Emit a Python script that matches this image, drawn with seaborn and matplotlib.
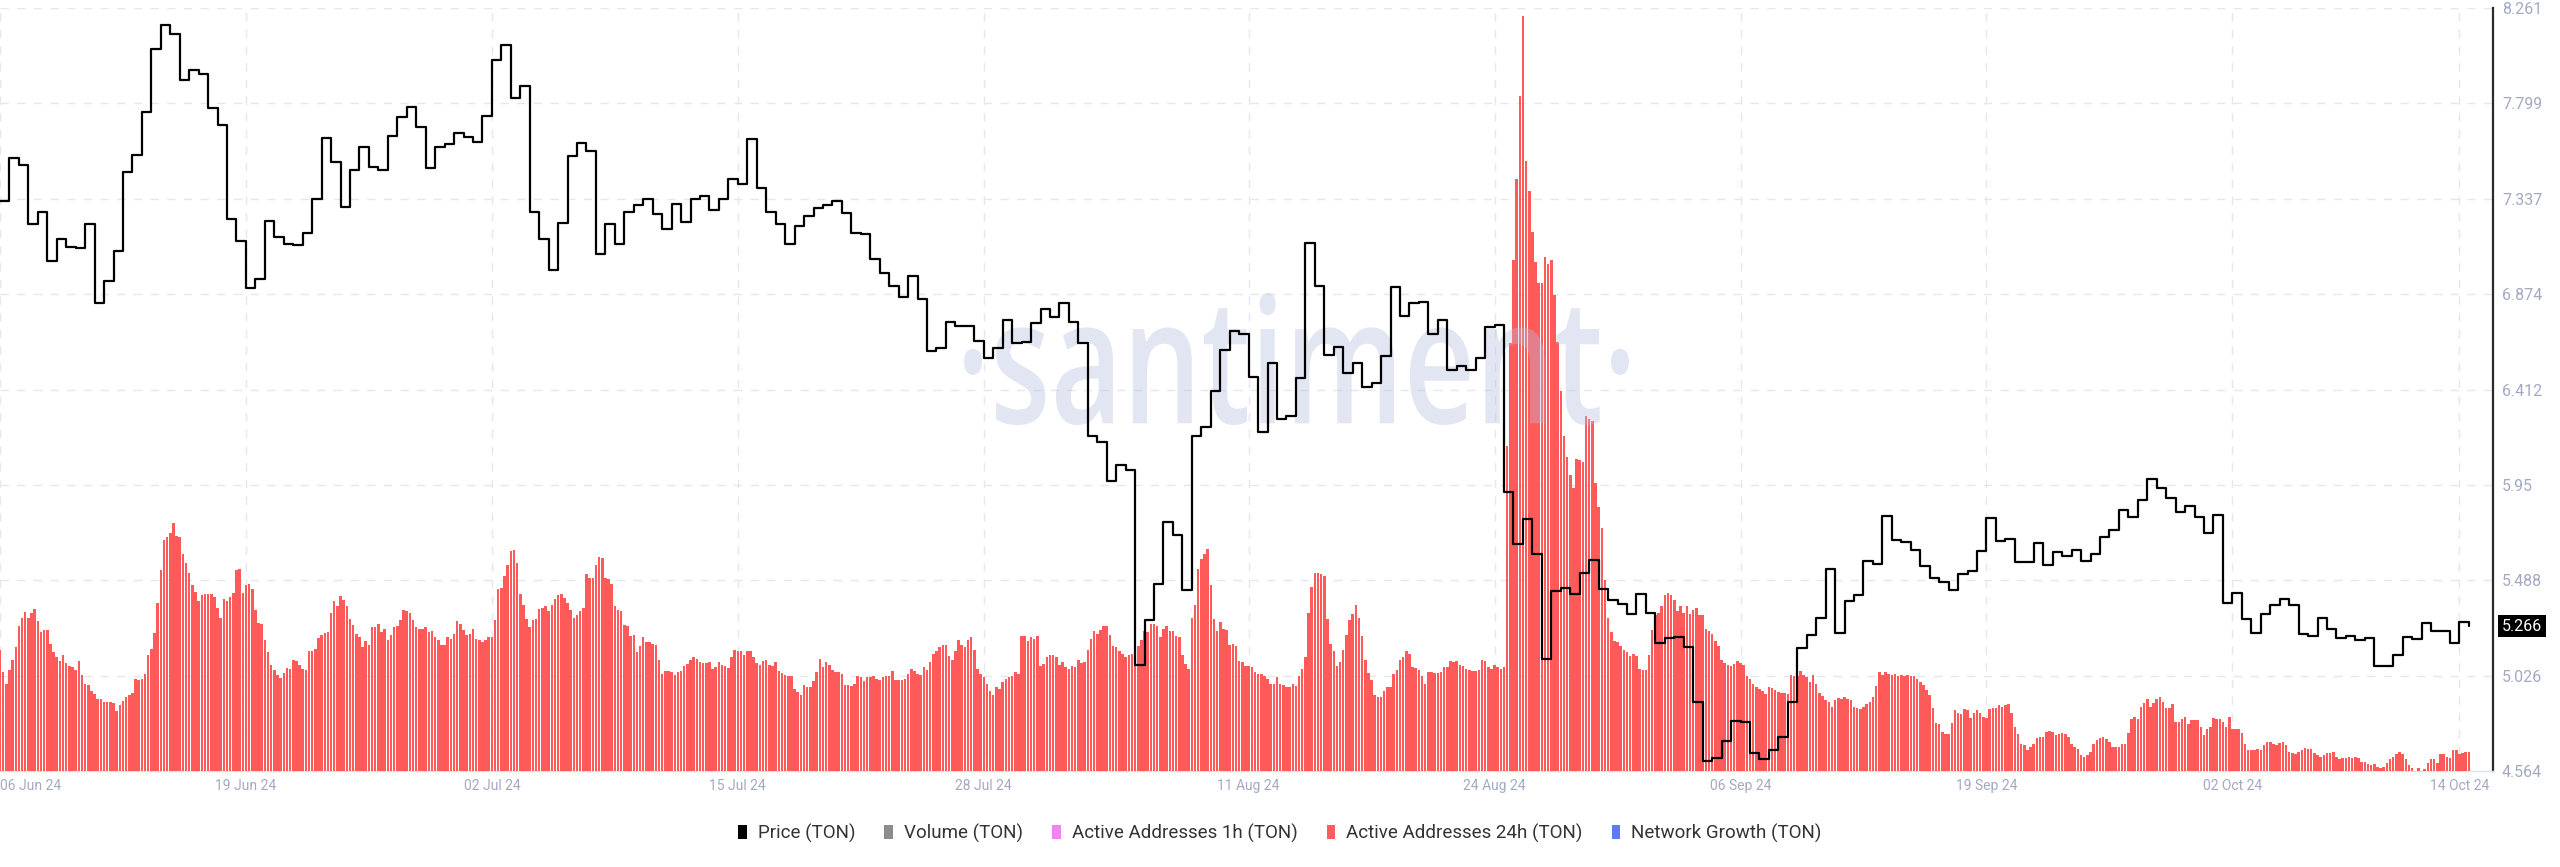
import numpy as np
import pandas as pd
import matplotlib
matplotlib.use('Agg')
import matplotlib.pyplot as plt
import seaborn as sns
from matplotlib.patches import Patch, PathPatch
from matplotlib.textpath import TextPath
from matplotlib.font_manager import FontProperties
from matplotlib.transforms import Affine2D

sns.set_theme(style='white')
plt.rcParams['font.family'] = ['Roboto', 'DejaVu Sans']

# Price (TON), one value every 12h starting 06 Jun 24
price_ton = [
    7.324, 7.534, 7.498, 7.214, 7.274, 7.033, 7.141, 7.105, 7.098, 7.216,
    6.831, 6.937, 7.084, 7.466, 7.551, 7.755, 8.064, 8.179, 8.136, 7.912,
    7.962, 7.943, 7.775, 7.695, 7.238, 7.134, 6.903, 6.949, 7.230, 7.153,
    7.117, 7.112, 7.173, 7.336, 7.630, 7.514, 7.298, 7.478, 7.587, 7.490,
    7.474, 7.642, 7.731, 7.779, 7.686, 7.486, 7.589, 7.601, 7.654, 7.637,
    7.611, 7.738, 8.011,
    8.083, 7.823, 7.883, 7.274, 7.144, 6.992, 7.221, 7.543, 7.606, 7.570,
    7.071, 7.216, 7.117, 7.274, 7.305, 7.334, 7.262, 7.192, 7.312, 7.226,
    7.334, 7.348, 7.281, 7.336, 7.433, 7.406, 7.625, 7.389, 7.274, 7.216,
    7.117, 7.204, 7.252, 7.293, 7.305, 7.324, 7.269, 7.173, 7.168, 7.047,
    6.975, 6.913, 6.860, 6.963, 6.852, 6.600, 6.612, 6.739, 6.720, 6.722,
    6.648, 6.563, 6.614,
    6.751, 6.636, 6.643, 6.734, 6.804, 6.763, 6.831, 6.739, 6.636, 6.185,
    6.157, 5.969, 6.046, 6.022, 5.078, 5.294, 5.470, 5.769, 5.709, 5.439,
    6.189, 6.233, 6.407, 6.602, 6.696, 6.679, 6.474, 6.209, 6.542, 6.270,
    6.282, 6.470, 7.124, 6.913, 6.578, 6.619, 6.494, 6.542, 6.426, 6.445,
    6.575, 6.908, 6.770, 6.831, 6.836, 6.679, 6.751, 6.506, 6.527, 6.506,
    6.566, 6.715, 6.727,
    5.916, 5.663, 5.784, 5.615, 5.107, 5.434, 5.451, 5.422, 5.523, 5.588,
    5.446, 5.391, 5.374, 5.326, 5.422, 5.331, 5.186, 5.210, 5.215, 5.167,
    4.897, 4.613, 4.627, 4.709, 4.805, 4.800, 4.649, 4.620, 4.668, 4.728,
    4.897, 5.162, 5.222, 5.306, 5.542, 5.234, 5.386, 5.415, 5.583, 5.567,
    5.800, 5.684, 5.675, 5.636, 5.559, 5.499, 5.482, 5.439, 5.518, 5.535,
    5.631, 5.788, 5.680,
    5.689, 5.578, 5.578, 5.668, 5.564, 5.624, 5.607, 5.636, 5.583, 5.615,
    5.697, 5.733, 5.831, 5.793, 5.877, 5.981, 5.937, 5.889, 5.819, 5.848,
    5.793, 5.716, 5.805, 5.379, 5.427, 5.299, 5.234, 5.326, 5.367, 5.398,
    5.367, 5.229, 5.217, 5.306, 5.253, 5.210, 5.217, 5.198, 5.210, 5.073,
    5.073, 5.126, 5.215, 5.205, 5.282, 5.241, 5.241, 5.186, 5.287, 5.266,
]

# Active Addresses 24h (TON), thousands, one bar every 4h starting 06 Jun 24
active_addresses_24h = [
    244, 199, 176, 204, 224, 249, 292, 309, 321, 309,
    319, 326, 302, 279, 284, 284, 256, 239, 229, 222,
    234, 217, 212, 209, 204, 221, 194, 176, 174, 162,
    156, 144, 144, 139, 138, 138, 136, 121, 132,
    141, 149, 154, 157, 186, 184, 186, 196, 234, 246,
    278, 339, 404, 466, 472, 479, 499, 474, 471, 436,
    419, 399, 374, 361, 342, 354, 357, 357, 357, 351,
    329, 309, 346, 342, 351, 359, 404, 406, 359, 374,
    376, 366, 324, 297, 296, 264, 239, 214, 204, 194,
    187, 197, 207, 206, 224, 222, 214, 206, 204, 242,
    242, 246, 267, 274, 277, 279, 319, 342, 332, 352,
    344, 332, 306, 294, 276, 269, 249, 261, 254, 289,
    289, 296, 279, 286, 264, 274, 289, 292, 304, 324,
    322, 318, 304, 289, 286, 286, 289, 279, 282, 269,
    264, 254, 254, 269, 266, 276, 302, 296, 284, 274,
    276, 286, 266, 264, 259, 264, 269, 269, 304, 366,
    369, 392, 414, 442, 444, 419, 356, 334, 306, 289,
    304, 307, 326, 329, 332, 322, 334, 347, 354, 357,
    349, 339, 324, 309, 314, 322, 329, 397, 389, 389,
    414, 431, 429, 389, 386, 376, 332, 324, 322, 294,
    292, 272, 274, 239, 252, 269, 259, 259, 256, 254,
    224, 196, 202, 202, 199, 194, 199, 202, 211,
    216, 224, 229, 226, 219, 217, 217, 219, 206,
    209, 219, 214, 212, 207, 229, 244, 242, 242, 234,
    242, 242, 229, 217, 214, 222, 224, 214, 212, 219,
    202, 197, 194, 192, 192, 166, 159, 154, 174, 169,
    169, 182, 199, 226, 209, 219, 214, 204, 199, 199,
    196, 174, 174, 172, 176, 192, 189, 181, 189, 189,
    192, 186, 184, 189, 192, 192, 202, 184, 184, 184,
    186, 196, 206, 202, 196, 194, 209, 204, 219, 236,
    242, 249, 254, 254, 232, 224, 242, 264, 254, 249,
    264, 269, 244, 206, 196, 189, 176, 162, 154, 169,
    166,
    179, 186, 189, 192, 199, 196, 272, 272, 262, 269,
    266, 272, 212, 216, 229, 234, 234, 229, 214,
    219, 209, 206, 212, 209, 224, 217, 219, 244, 266,
    282, 276, 284, 292, 292, 274, 252, 249, 242, 236,
    229, 234, 236, 242, 252, 264, 282, 279, 296, 296,
    292, 269, 286, 291, 282, 282, 271, 269, 234, 216,
    206, 309, 334, 407, 426, 436, 446, 374, 306, 282,
    299, 286, 284, 254, 256, 252, 222, 219, 212, 212,
    209, 199, 196, 196, 192, 186, 176, 176, 189, 176,
    174, 169, 169, 176, 172, 192, 206, 229, 319, 371,
    399, 399, 396, 392, 306, 256, 242, 212, 219, 244,
    274, 304, 317, 334, 309, 272, 224, 197, 184, 154,
    149, 149, 162, 169, 169, 196, 204, 224, 229, 242,
    236, 209, 207, 204, 192, 176, 199, 199, 197,
    197, 199, 209, 209, 222, 219, 222, 214, 212, 206,
    204, 202, 202, 204, 224, 222, 209, 206, 214, 209,
    206,
    209, 654, 862, 1028, 1192, 1358, 1520, 1228, 1168, 1086,
    1024, 982, 982, 1034, 1020, 1028, 958, 864, 764, 674,
    632, 596, 569, 629, 626, 622, 714, 709, 704, 579,
    532, 489, 384, 309, 279,
    261, 259, 252, 244, 239, 232, 236, 232, 206, 204,
    204, 234, 284, 314, 319, 332, 354, 359, 354, 344,
    322, 332, 319, 332, 316, 324, 329, 314, 314, 286,
    282, 276, 262, 252, 224, 217, 214, 212, 216, 222,
    217, 214, 192, 186, 176, 169, 166, 161, 156, 169,
    167, 164, 159, 157, 157, 156, 194, 192, 192,
    202, 194, 189, 179, 194, 176, 157, 152, 142, 139,
    129, 142, 146, 144, 149, 144, 142, 129, 126, 124,
    129, 134, 139, 149, 172, 199, 194, 199, 196, 194,
    196, 192, 194, 192, 194, 192, 192, 186, 179, 174,
    164, 154, 126, 96, 94, 79, 74, 74, 96, 122,
    116, 114, 124, 122, 106, 116, 122, 116, 109, 106,
    124, 126, 126, 132, 129,
    132, 134, 116, 89, 74, 54, 52, 42, 49, 54,
    66, 69, 69, 79, 81, 79, 72, 74, 77, 74,
    69, 54, 49, 44, 32, 29, 32, 39, 54, 62,
    66, 69, 64, 59, 49, 49, 49, 54, 54, 76,
    104, 109, 104, 129, 136, 144, 129, 136, 144, 149,
    139, 126, 126, 134, 99, 99, 104, 109, 94, 102,
    102, 102, 89, 72, 84, 89, 106, 104, 104, 99,
    89, 109, 84, 84, 84, 76, 54, 42, 42, 42,
    44, 42, 52, 59, 59, 54, 52, 56, 59, 52,
    39, 36, 34, 39, 42, 46, 44, 44, 36, 32,
    29, 32, 36, 36, 39, 29, 24, 26, 26, 29,
    26, 29, 26, 19, 19, 14, 12, 14, 9, 6,
    9, 16, 24, 29, 34, 39, 34, 24, 12, 6,
    0, 6, 0, 4, 16, 24, 24, 16, 34, 34,
    29, 26, 42, 42, 34, 36, 39, 39,
]

price_ticks = [4.564, 5.026, 5.488, 5.95, 6.412, 6.874, 7.337, 7.799, 8.261]
price_tick_labels = ['4.564', '5.026', '5.488', '5.95', '6.412', '6.874', '7.337', '7.799', '8.261']

date_ticks = ['2024-06-06', '2024-06-19', '2024-07-02', '2024-07-15', '2024-07-28', '2024-08-11',
              '2024-08-24', '2024-09-06', '2024-09-19', '2024-10-02', '2024-10-14']
date_labels = ['06 Jun 24', '19 Jun 24', '02 Jul 24', '15 Jul 24', '28 Jul 24', '11 Aug 24',
               '24 Aug 24', '06 Sep 24', '19 Sep 24', '02 Oct 24', '14 Oct 24']

legend_labels = ['Price (TON)', 'Volume (TON)', 'Active Addresses 1h (TON)',
                 'Active Addresses 24h (TON)', 'Network Growth (TON)']
legend_colors = ['#000000', '#8c8c8c', '#ef83ef', '#ff5c5c', '#5c7cfa']

price_times = pd.date_range('2024-06-06', periods=len(price_ton), freq='12h')
bar_times = pd.date_range('2024-06-06', periods=len(active_addresses_24h), freq='4h')

tick_color = '#a3a9c4'

fig = plt.figure(figsize=(25.6, 8.67), dpi=100)
ax = fig.add_axes([0.0, 0.1107, 0.9738, 0.8801])

# bars layer and price layer sit on twins of the base (grid) axes
ax_bar = ax.twinx()
ax_line = ax.twinx()

ax.set_ylim(4.564, 8.261)
ax.set_yticks(price_ticks)
ax.set_yticklabels(price_tick_labels)
ax.yaxis.tick_right()
ax.tick_params(axis='y', left=False, labelleft=False, right=False, labelright=True,
               length=0, pad=6.5, labelsize=11.5, labelcolor=tick_color)
ax.grid(True, color='#e4e6f0', linestyle=(0, (6, 6)), linewidth=1)
for side in ['top', 'left']:
    ax.spines[side].set_visible(False)
ax.spines['right'].set_color('#2a2a2a')
ax.spines['right'].set_linewidth(1.6)
ax.spines['bottom'].set_color('#dfe2ea')
ax.spines['bottom'].set_linewidth(1)

ax_bar.bar(bar_times, active_addresses_24h, width=(4 / 24) * 0.8, color='#ff5a5a', linewidth=0)
ax_bar.set_ylim(0, 1536)
ax_bar.set_axis_off()

# watermark
tp = TextPath((0, 0), '\u00b7santiment\u00b7', size=100,
              prop=FontProperties(family='Open Sans', weight='semibold'))
bb = tp.get_extents()
x0, x1, y0, y1 = 9.64, 16.29, 4.42, 5.74
wm = Affine2D().translate(-bb.x0, -bb.y0).scale((x1 - x0) / bb.width, (y1 - y0) / bb.height).translate(x0, y0)
ax_bar.add_artist(PathPatch(wm.transform_path(tp), transform=fig.dpi_scale_trans,
                            facecolor='#b4bedd', edgecolor='none', alpha=0.38, clip_on=False))

sns.lineplot(x=price_times, y=price_ton, ax=ax_line, color='black', linewidth=1.6,
             drawstyle='steps-post')
ax_line.set_ylim(4.564, 8.261)
ax_line.set_axis_off()
ax_line.annotate(f'{price_ton[-1]:.3f}', xy=(1, price_ton[-1]), xycoords=('axes fraction', 'data'),
                 xytext=(6.5, 0), textcoords='offset points', ha='left', va='center',
                 fontsize=11.5, color='white', annotation_clip=False,
                 bbox=dict(boxstyle='square,pad=0.22', fc='black', ec='none'))

ax.set_xlim(pd.Timestamp('2024-06-06'), pd.Timestamp('2024-10-15 18:30'))
ax.set_xticks(pd.to_datetime(date_ticks))
ax.set_xticklabels(date_labels)
ax.tick_params(axis='x', length=0, pad=6, labelsize=10, labelcolor=tick_color)
ax.get_xticklabels()[0].set_horizontalalignment('left')

handles = [Patch(facecolor=c, edgecolor='none') for c in legend_colors]
fig.legend(handles, legend_labels, loc='center', bbox_to_anchor=(0.5, 0.039), ncol=5,
           frameon=False, fontsize=13.5, handlelength=0.45, handleheight=0.75,
           handletextpad=0.6, columnspacing=1.55, labelcolor='#333333')

fig.savefig('out.png', dpi=100)
